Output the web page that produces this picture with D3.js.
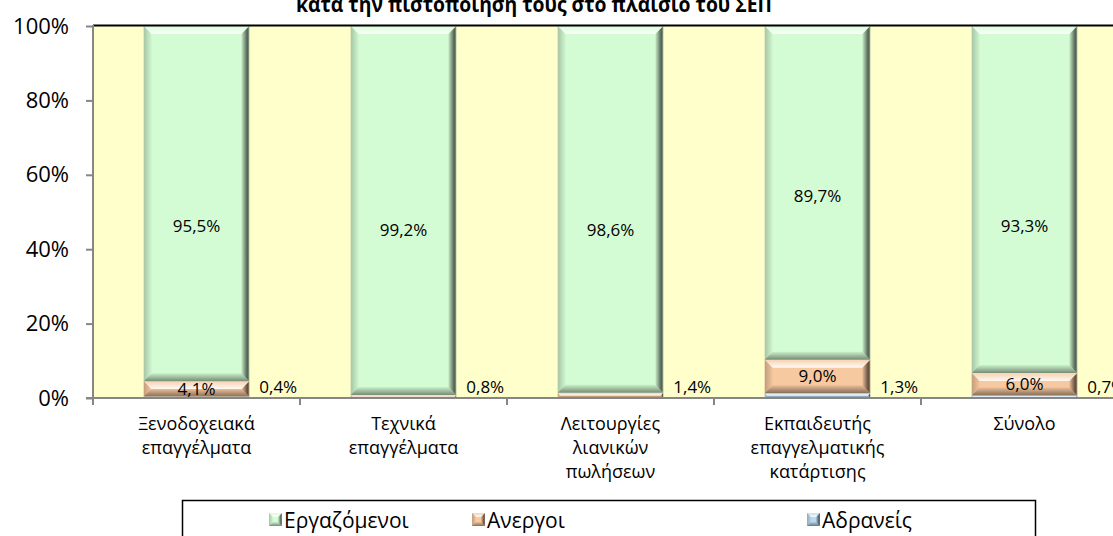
<!DOCTYPE html>
<html>
<head>
<meta charset="utf-8">
<script src="https://cdn.jsdelivr.net/npm/d3@7"></script>
<style>
	body { margin: 0; background: #fff; }
	svg { display: block; font-family: "Open Sans", "Noto Sans", sans-serif; }
</style>
</head>
<body>
<svg id="chart" width="1113" height="536"></svg>
<script>
// Chart data.
var categories = ['hotel', 'tech', 'retail', 'trainer', 'total'];
var categoryLabels = [
	['Ξενοδοχειακά', 'επαγγέλματα'],
	['Τεχνικά', 'επαγγέλματα'],
	['Λειτουργίες', 'λιανικών', 'πωλήσεων'],
	['Εκπαιδευτής', 'επαγγελματικής', 'κατάρτισης'],
	['Σύνολο']
];
var employed = [95.5, 99.2, 98.6, 89.7, 93.3];
var unemployed = [4.1, 0.8, 1.4, 9.0, 6.0];
var inactive = [0.4, 0.0, 0.0, 1.3, 0.7];
// Where the employed labels sit (in % of the axis), as in the picture.
var employedLabelAt = [46.2, 45.2, 45.2, 54.3, 46.2];
var seriesNames = ['Εργαζόμενοι', 'Ανεργοι', 'Αδρανείς'];
var yTicks = [0, 20, 40, 60, 80, 100];
var titleText = 'κατά την πιστοποίηση τους στο πλαίσιο του ΣΕΠ';

var svg = d3.select('#chart');
var plotLeft = 93, plotRight = 1128, plotTop = 26, plotBottom = 398;

var colors = {
	employed: '#d4fcd4',
	unemployed: '#f7c9a0',
	inactive: '#b9d8ee'
};

var y = d3.scaleLinear().domain([0, 100]).range([plotBottom, plotTop]);
var x = d3.scaleBand()
	.domain(categories)
	.range([plotLeft, plotRight])
	.paddingInner(0.49)
	.paddingOuter(0.245);

var fmt = function(v) { return v.toFixed(1).replace('.', ',') + '%'; };

// Gradients used for the bevel edges of every bar segment.
var defs = svg.append('defs');
function gradient(id, x1, y1, x2, y2, stops) {
	var g = defs.append('linearGradient').attr('id', id)
		.attr('x1', x1).attr('y1', y1).attr('x2', x2).attr('y2', y2);
	stops.forEach(function(s) {
		g.append('stop').attr('offset', s[0]).attr('stop-color', s[1]).attr('stop-opacity', s[2]);
	});
}
gradient('bevel-top', 0, 0, 0, 1, [[0, '#fff', 0.15], [1, '#fff', 0.9]]);
gradient('bevel-right', 0, 0, 1, 0, [[0, '#000', 0.05], [0.75, '#000', 0.62], [1, '#000', 0.35]]);
gradient('bevel-bottom', 0, 0, 0, 1, [[0, '#000', 0.05], [1, '#000', 0.45]]);
gradient('bevel-left', 1, 0, 0, 0, [[0, '#000', 0.02], [1, '#000', 0.22]]);

function bevelBox(g, bx, by, bw, bh, fill, size) {
	if (bh <= 0) return;
	var b = Math.min(size, bh / 2, bw / 2);
	g.append('rect').attr('x', bx).attr('y', by).attr('width', bw).attr('height', bh).attr('fill', fill);
	var pts = function(a) { return a.map(function(p) { return p.join(','); }).join(' '); };
	g.append('polygon').attr('fill', 'url(#bevel-top)')
		.attr('points', pts([[bx, by], [bx + bw, by], [bx + bw - b, by + b], [bx + b, by + b]]));
	g.append('polygon').attr('fill', 'url(#bevel-left)')
		.attr('points', pts([[bx, by], [bx + b, by + b], [bx + b, by + bh - b], [bx, by + bh]]));
	g.append('polygon').attr('fill', 'url(#bevel-right)')
		.attr('points', pts([[bx + bw, by], [bx + bw, by + bh], [bx + bw - b, by + bh - b], [bx + bw - b, by + b]]));
	g.append('polygon').attr('fill', 'url(#bevel-bottom)')
		.attr('points', pts([[bx, by + bh], [bx + b, by + bh - b], [bx + bw - b, by + bh - b], [bx + bw, by + bh]]));
}

// Plot area background.
svg.append('rect')
	.attr('x', plotLeft).attr('y', plotTop)
	.attr('width', plotRight - plotLeft).attr('height', plotBottom - plotTop)
	.attr('fill', '#ffffcc');

// Stacked bars: inactive at the bottom, then unemployed, then employed.
var rows = categories.map(function(c, i) {
	return { cat: c, inactive: inactive[i], unemployed: unemployed[i], employed: employed[i] };
});
var keys = ['inactive', 'unemployed', 'employed'];
var stacked = d3.stack().keys(keys)(rows);

var bars = svg.append('g');
stacked.forEach(function(layer) {
	layer.forEach(function(d) {
		var top = y(d[1]), bottom = y(d[0]);
		bevelBox(bars, x(d.data.cat), top, x.bandwidth(), bottom - top, colors[layer.key], 8);
	});
});

// Top border of the plot area.
svg.append('line')
	.attr('x1', plotLeft).attr('x2', plotRight)
	.attr('y1', plotTop - 0.5).attr('y2', plotTop - 0.5)
	.attr('stroke', '#000').attr('stroke-width', 2);

// Axes.
var yAxis = svg.append('g')
	.attr('transform', 'translate(' + plotLeft + ',0)')
	.call(d3.axisLeft(y).tickValues(yTicks).tickFormat(function(d) { return d + '%'; })
		.tickSize(7).tickPadding(17));
yAxis.select('.domain').attr('stroke', '#868686').attr('stroke-width', 2)
	.attr('d', 'M0,' + (plotTop - 1) + 'V' + plotBottom);
yAxis.selectAll('.tick line').attr('stroke', '#868686').attr('stroke-width', 2);
yAxis.selectAll('.tick text').attr('font-size', 22).attr('fill', '#000')
	.attr('font-family', '"Open Sans", sans-serif');

var xAxis = svg.append('g');
xAxis.append('line')
	.attr('x1', plotLeft - 7).attr('x2', plotRight)
	.attr('y1', plotBottom).attr('y2', plotBottom)
	.attr('stroke', '#868686').attr('stroke-width', 2);
d3.range(categories.length + 1).forEach(function(i) {
	var tx = x.range()[0] + i * x.step();
	xAxis.append('line')
		.attr('x1', tx).attr('x2', tx).attr('y1', plotBottom).attr('y2', plotBottom + 7)
		.attr('stroke', '#868686').attr('stroke-width', 2);
});
categories.forEach(function(c, i) {
	var t = xAxis.append('text')
		.attr('x', x(c) + x.bandwidth() / 2)
		.attr('y', 430)
		.attr('text-anchor', 'middle')
		.attr('font-size', 18)
		.attr('fill', '#000');
	categoryLabels[i].forEach(function(line, j) {
		t.append('tspan').attr('x', x(c) + x.bandwidth() / 2).attr('dy', j === 0 ? 0 : 24).text(line);
	});
});

// Data labels.
var labels = svg.append('g').attr('font-size', 17).attr('fill', '#000');
categories.forEach(function(c, i) {
	var cx = x(c) + x.bandwidth() / 2;
	labels.append('text')
		.attr('x', cx).attr('y', y(employedLabelAt[i]))
		.attr('dy', '0.35em').attr('text-anchor', 'middle')
		.text(fmt(employed[i]));
	// Small values are written to the right of the bar.
	var side = inactive[i] > 0 ? inactive[i] : unemployed[i];
	if (unemployed[i] >= 2) {
		labels.append('text')
			.attr('x', cx).attr('y', y(inactive[i] + unemployed[i] / 2))
			.attr('dy', '0.35em').attr('text-anchor', 'middle')
			.text(fmt(unemployed[i]));
	}
	labels.append('text')
		.attr('x', x(c) + x.bandwidth() + 10).attr('y', y(0) - 11)
		.attr('dy', '0.35em')
		.text(fmt(side));
});

// Title (its first line is above the picture).
svg.append('text')
	.attr('x', 534).attr('y', 12)
	.attr('text-anchor', 'middle')
	.attr('font-size', 22).attr('font-weight', 'bold')
	.attr('textLength', 476).attr('lengthAdjust', 'spacingAndGlyphs')
	.text(titleText);

// Legend.
var legend = svg.append('g');
legend.append('rect')
	.attr('x', 182.5).attr('y', 500.5).attr('width', 853).attr('height', 50)
	.attr('fill', '#fff').attr('stroke', '#000').attr('stroke-width', 1.5);
var legendX = [269, 472, 807];
var legendKeys = ['employed', 'unemployed', 'inactive'];
legendKeys.forEach(function(k, i) {
	var g = legend.append('g');
	bevelBox(g, legendX[i], 513, 13, 13, colors[k], 4);
	g.append('text')
		.attr('x', legendX[i] + 15).attr('y', 520)
		.attr('dy', '0.36em').attr('font-size', 21)
		.text(seriesNames[i]);
});
</script>
</body>
</html>
